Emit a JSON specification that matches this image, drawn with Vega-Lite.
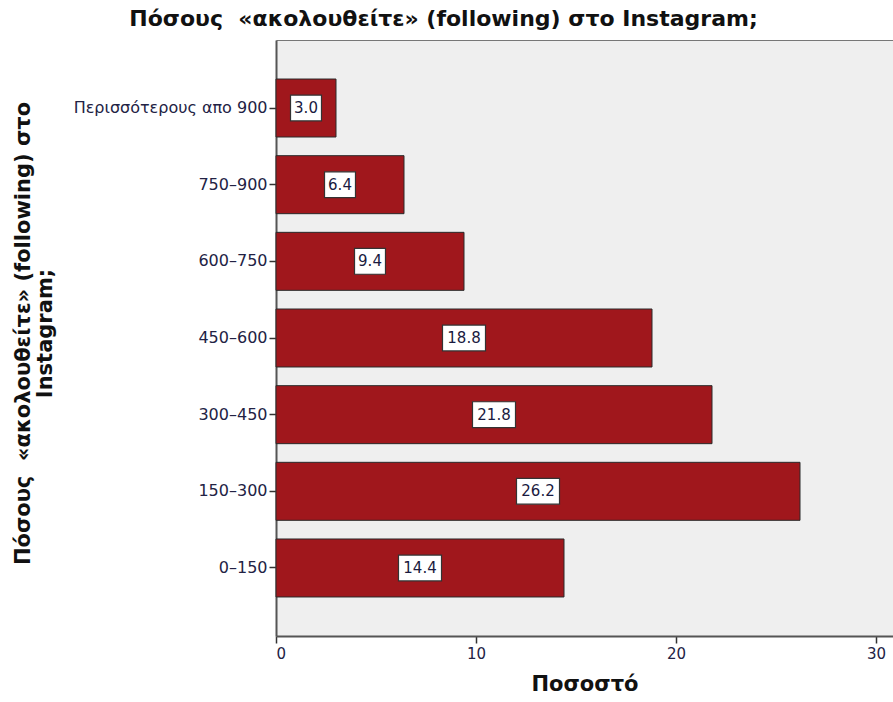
{
  "$schema": "https://vega.github.io/schema/vega-lite/v6.json",
  "width": 617,
  "height": 596,
  "autosize": "none",
  "padding": {"left": 276, "top": 40, "right": 0, "bottom": 66},
  "background": "white",
  "config": {
    "view": {"fill": "#efefef", "stroke": null},
    "font": "DejaVu Sans"
  },
  "title": {
    "text": "Πόσους \u00a0«ακολουθείτε» (following) στο Instagram;",
    "font": "DejaVu Sans",
    "fontSize": 22,
    "fontWeight": "bold",
    "color": "#111",
    "anchor": "middle",
    "dx": -141,
    "baseline": "alphabetic",
    "offset": -8
  },
  "data": {
    "values": [
      {"category": "Περισσότερους απο 900", "value": 3.0, "label": "3.0"},
      {"category": "750–900", "value": 6.4, "label": "6.4"},
      {"category": "600–750", "value": 9.4, "label": "9.4"},
      {"category": "450–600", "value": 18.8, "label": "18.8"},
      {"category": "300–450", "value": 21.8, "label": "21.8"},
      {"category": "150–300", "value": 26.2, "label": "26.2"},
      {"category": "0–150", "value": 14.4, "label": "14.4"}
    ]
  },
  "encoding": {
    "y": {
      "field": "category",
      "type": "nominal",
      "sort": null,
      "scale": {"paddingInner": 0.2435, "paddingOuter": 0.509},
      "axis": {
        "title": ["Πόσους \u00a0«ακολουθείτε» (following) στο", "Instagram;"],
        "titleFont": "DejaVu Sans",
        "titleFontSize": 21,
        "titleFontWeight": "bold",
        "titleColor": "#111",
        "titleAngle": -90,
        "titleAlign": "center",
        "titleBaseline": "top",
        "titleX": -264,
        "titleY": 293,
        "titleLineHeight": 22,
        "labelFont": "DejaVu Sans",
        "labelFontSize": 16,
        "labelLimit": 300,
        "labelColor": "#222244",
        "labelPadding": 2,
        "tickSize": 7,
        "tickColor": "#333",
        "tickWidth": 1.5,
        "domainColor": "#555",
        "domainWidth": 2,
        "grid": false
      }
    }
  },
  "layer": [
    {
      "mark": {"type": "bar", "color": "#a0171c", "stroke": "#2a2a2a", "strokeWidth": 1},
      "encoding": {
        "x": {
          "field": "value",
          "type": "quantitative",
          "scale": {"domain": [0, 30.85], "nice": false},
          "axis": {
            "title": "Ποσοστό",
            "titleFont": "DejaVu Sans",
            "titleFontSize": 21,
            "titleFontWeight": "bold",
            "titleColor": "#111",
            "titlePadding": 12,
            "values": [0, 10, 20, 30],
            "labelFont": "DejaVu Sans",
            "labelFontSize": 15,
            "labelColor": "#222244",
            "labelPadding": 3,
            "tickSize": 7,
            "tickColor": "#333",
            "tickWidth": 1.5,
            "domainColor": "#555",
            "domainWidth": 2,
            "grid": false
          }
        }
      }
    },
    {
      "mark": {"type": "rule", "opacity": 0},
      "encoding": {
        "x": {
          "field": "value",
          "type": "quantitative",
          "axis": {
            "orient": "top",
            "title": null,
            "labels": false,
            "ticks": false,
            "domainColor": "#777",
            "domainWidth": 1,
            "grid": false
          }
        }
      }
    },
    {
      "transform": [{"calculate": "datum.value / 2", "as": "mid"}],
      "mark": {"type": "point", "filled": true, "fill": "white", "stroke": "#333", "strokeWidth": 1.2, "opacity": 1, "size": 1849},
      "encoding": {
        "x": {"field": "mid", "type": "quantitative", "axis": null},
        "shape": {
          "condition": {"test": "datum.value >= 10", "value": "M-1,-0.6L1,-0.6L1,0.6L-1,0.6Z"},
          "value": "M-0.72,-0.6L0.72,-0.6L0.72,0.6L-0.72,0.6Z"
        }
      }
    },
    {
      "transform": [{"calculate": "datum.value / 2", "as": "mid"}],
      "mark": {"type": "text", "font": "DejaVu Sans", "fontSize": 15, "color": "#1a1a40", "align": "center", "baseline": "middle"},
      "encoding": {
        "x": {"field": "mid", "type": "quantitative", "axis": null},
        "text": {"field": "label"}
      }
    }
  ],
  "resolve": {"axis": {"x": "independent"}}
}
